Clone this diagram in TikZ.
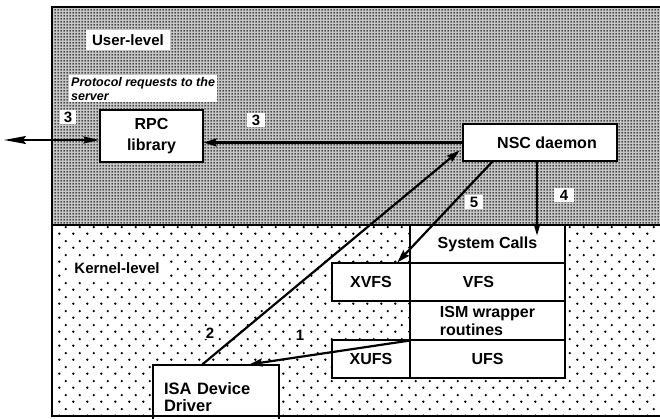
\documentclass[tikz,border=0pt]{standalone}
\usepackage{fontspec}
\setmainfont{Liberation Sans}
\usetikzlibrary{arrows.meta,patterns,calc}

\pgfdeclarepatternformonly{userdots}{\pgfpointorigin}{\pgfpoint{3pt}{3pt}}{\pgfpoint{3pt}{3pt}}{%
  \pgfpathcircle{\pgfpoint{1.5pt}{1.5pt}}{1.15pt}\pgfusepath{fill}}
\pgfdeclarepatternformonly{kerneldots}{\pgfpointorigin}{\pgfpoint{14pt}{14pt}}{\pgfpoint{14pt}{14pt}}{%
  \pgfpathcircle{\pgfpoint{3.5pt}{3.5pt}}{1.35pt}%
  \pgfpathcircle{\pgfpoint{10.5pt}{10.5pt}}{1.35pt}\pgfusepath{fill}}

\tikzset{
  box/.style={draw, fill=white, line width=1.2pt, inner sep=0pt, align=center,
    font=\bfseries\fontsize{16}{21}\selectfont},
  lbl/.style={fill=white, inner sep=2pt, font=\bfseries\fontsize{15}{17}\selectfont},
  conn/.style={line width=2.2pt, -{Stealth[length=13pt,width=8pt,inset=2pt]}},
  thinconn/.style={line width=1.4pt, -{Stealth[length=12pt,width=7pt,inset=2pt]}},
}

\begin{document}
\begin{tikzpicture}[x=1pt,y=-1pt]
\useasboundingbox (0,0) rectangle (660,418);
\fill[white] (0,0) rectangle (660,418);

% regions
\fill[black!22] (52,7) rectangle (662,225);
\path[pattern=userdots, pattern color=black!90] (52,7) rectangle (662,225);
\path[pattern=kerneldots, pattern color=black] (52,225) rectangle (662,416);
\draw[line width=1.5pt] (52,225) -- (662,225);

% region labels
\node[lbl, inner xsep=6pt, inner ysep=4pt] (userlbl) at (128,40) {User-level};
\node[lbl, inner xsep=5pt, inner ysep=4pt] (kernlbl) at (117,268) {Kernel-level};
\node[fill=white, inner sep=2pt, align=left, anchor=north west,
  font=\bfseries\itshape\fontsize{12.5}{14}\selectfont] (proto) at (69,75)
  {Protocol requests to the\\server};

% boxes
\node[box, minimum width=103pt, minimum height=52pt] (rpc) at (151.5,136) {RPC\\library};
\node[box, minimum width=154pt, minimum height=37pt] (nsc) at (540,142.5) {\hspace*{14pt}NSC daemon};
\node[box, minimum width=155pt, minimum height=38pt] (sys) at (487.5,244) {System Calls};
\node[box, minimum width=78pt, minimum height=38pt] (xvfs) at (371,282) {XVFS};
\node[box, minimum width=155pt, minimum height=38pt] (vfs) at (487.5,282) {VFS\hspace*{18pt}};
\node[box, minimum width=155pt, minimum height=39pt, align=left,
  font=\bfseries\fontsize{16}{18}\selectfont] (ism) at (487.5,320.5) {ISM wrapper\\routines};
\node[box, minimum width=78pt, minimum height=38pt] (xufs) at (371,359) {XUFS};
\node[box, minimum width=155pt, minimum height=38pt] (ufs) at (487.5,359) {UFS};
\node[box, minimum width=126pt, minimum height=64pt, text width=104pt, align=left,
  font=\bfseries\fontsize{16.5}{17.5}\selectfont] (isa) at (216,397) {ISA Device\\Driver};

% outer frame
\draw[line width=1.5pt] (662,7) -- (52,7) -- (52,416) -- (662,416);

% connectors
\coordinate (ext) at (4,140);
\draw[line width=1.8pt, {Stealth[length=22pt,width=8pt,inset=3pt]}-{Stealth[length=16pt,width=7pt,inset=2pt]}]
  (ext) -- ([yshift=-4pt]rpc.west);
\draw[conn] (nsc.west) -- (nsc.west -| rpc.east);
\draw[conn] ([xshift=50pt]isa.north west) -- ($(nsc.south west)+(-3,-11)$);
\draw[conn] ($(nsc.south west)+(30,0)$) -- ($(xvfs.north west)+(66,0)$);
\draw[thinconn] ($(nsc.south)+(-3,0)$) -- ($(nsc.south |- sys.north)+(-3,11)$);
\draw[conn] (ism.south west) -- ([xshift=97pt]isa.north west);

% step numbers
\node[lbl, inner xsep=4pt] (n3a) at (68,117) {3};
\node[lbl, inner xsep=5pt] (n3b) at (256,120) {3};
\node[lbl, inner xsep=5pt] (n5) at (474,202) {5};
\node[lbl, inner xsep=6pt] (n4) at (564,195) {4};
\node[lbl, inner sep=1pt] (n2) at (210,333) {2};
\node[lbl, inner sep=1pt] (n1) at (300,335) {1};
\end{tikzpicture}
\end{document}
